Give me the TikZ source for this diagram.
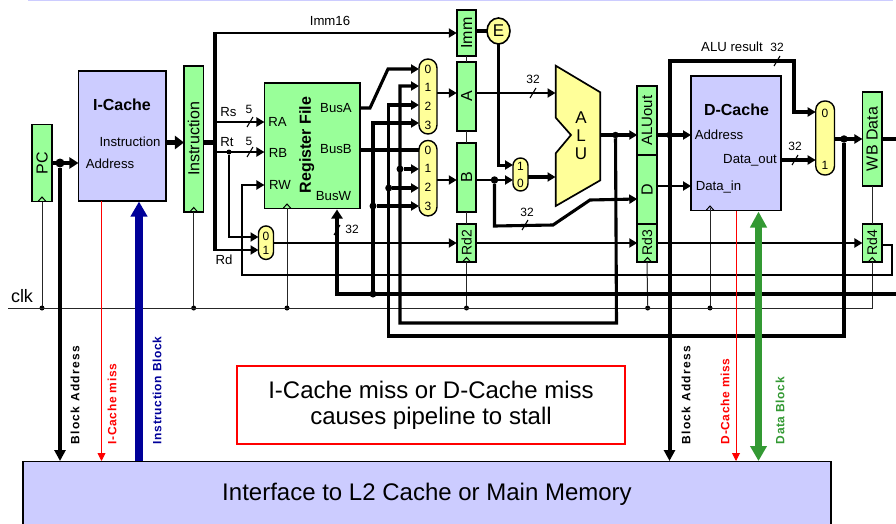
\documentclass[tikz,border=0pt]{standalone}
\usepackage{fontspec}
\setmainfont{Liberation Sans}
\usetikzlibrary{arrows.meta,calc,shapes.geometric}
\definecolor{gbox}{HTML}{99FF99}
\definecolor{ybox}{HTML}{FFFF99}
\definecolor{lbox}{HTML}{CCCCFF}
\definecolor{nblue}{HTML}{000099}
\definecolor{dgreen}{HTML}{339933}
\tikzset{
  regbox/.style={draw=black,line width=1.7pt,fill=gbox,inner sep=0pt,outer sep=0pt,font=\fontsize{16}{16}\selectfont},
  cachebox/.style={draw=black,line width=1.8pt,fill=lbox,inner sep=0pt,outer sep=0pt},
  muxbox/.style={draw=black,line width=1.4pt,fill=ybox,inner sep=0pt,outer sep=0pt,rounded corners=7.5pt},
  lbl/.style={inner sep=0pt,font=\fontsize{13.2}{13}\selectfont,text height=9.5pt,text depth=0pt},
  blbl/.style={inner sep=0pt,font=\fontsize{16}{16}\selectfont\bfseries,text height=11.5pt,text depth=0pt},
  num/.style={inner sep=0pt,font=\fontsize{12}{12}\selectfont,text height=8.6pt,text depth=0pt},
  vlbl/.style={inner sep=0pt,rotate=90,anchor=west,font=\fontsize{12}{12}\selectfont\bfseries\addfontfeature{LetterSpace=5.5}},
  vwide/.style={inner sep=0pt,rotate=90,anchor=west,font=\fontsize{12}{12}\selectfont\bfseries\addfontfeature{LetterSpace=11}},
  bigtxt/.style={inner sep=0pt,font=\fontsize{24}{24}\selectfont},
  jdot/.style={circle,fill=black,inner sep=0pt,minimum size=#1,outer sep=0pt},
  cdot/.style={circle,fill=black,inner sep=0pt,minimum size=5pt,outer sep=0pt},
  thinw/.style={line width=1pt,draw=black!85},
  w2/.style={line width=2.4pt,line join=miter},
  w3/.style={line width=3.1pt,line join=miter},
  w4/.style={line width=4.8pt,line join=miter},
  arr/.style={-{Triangle[length=8pt,width=9pt]}},
  arrb/.style={-{Triangle[length=9pt,width=11pt]}},
  slash/.style={line width=1.1pt,draw=black},
  clkt/.style={line width=1pt,draw=black}
}
\newcommand{\clktri}[2]{\draw[clkt] ({#1-4},#2) -- (#1,{#2-4.5}) -- ({#1+4},#2);}
\newcommand{\slashat}[2]{\draw[slash] ({#1-3},{#2+5}) -- ({#1+3},{#2-5});}
\newcommand{\rdtext}[1]{\rotatebox{90}{\fontsize{14}{14}\selectfont #1}}
\begin{document}
\begin{tikzpicture}[x=1pt,y=-1pt]
\useasboundingbox (0,0) rectangle (896,524);
\clip (0,0) rectangle (896,524);
\fill[lbox] (28,-1) rectangle (893,1.2);

% boxes
\node[regbox,minimum width=19.5pt,minimum height=77pt] (pc) at (42,163) {\rotatebox{90}{PC}};
\node[cachebox,minimum width=87.5pt,minimum height=130pt] (icache) at (122.2,136) {};
\node[regbox,minimum width=19.5pt,minimum height=146pt] (instr) at (193.7,139) {\rotatebox{90}{Instruction}};
\node[regbox,minimum width=95.5pt,minimum height=125.5pt] (rf) at (312.2,145.7) {};
\node[regbox,minimum width=19.5pt,minimum height=46pt] (imm) at (466.5,33) {\rotatebox{90}{Imm}};
\node[regbox,minimum width=19.5pt,minimum height=69pt] (rega) at (466.5,96.5) {\rotatebox{90}{A}};
\node[regbox,minimum width=19.5pt,minimum height=69pt] (regb) at (466.5,177.5) {\rotatebox{90}{B}};
\node[regbox,minimum width=19.5pt,minimum height=38pt] (rd2) at (466.5,243) {\rdtext{Rd2}};
\node[regbox,minimum width=19.5pt,minimum height=69pt] (aluout) at (647,120.5) {\rotatebox{90}{\fontsize{15}{15}\selectfont ALUout}};
\node[regbox,minimum width=19.5pt,minimum height=69pt] (regd) at (647,189.5) {\rotatebox{90}{D}};
\node[regbox,minimum width=19.5pt,minimum height=38pt] (rd3) at (647,243) {\rdtext{Rd3}};
\node[cachebox,minimum width=90pt,minimum height=134.5pt] (dcache) at (736,143.2) {};
\node[regbox,minimum width=19.5pt,minimum height=94pt] (wb) at (872.2,139) {\rotatebox{90}{WB Data}};
\node[regbox,minimum width=19.5pt,minimum height=38pt] (rd4) at (872.2,243) {\rdtext{Rd4}};
\node[muxbox,minimum width=18pt,minimum height=75pt,rounded corners=9pt] (muxa) at (428,96.5) {};
\node[muxbox,minimum width=18pt,minimum height=75.5pt,rounded corners=9pt] (muxb) at (428,178.2) {};
\node[muxbox,minimum width=15pt,minimum height=33pt] (muxs) at (520.5,174.5) {};
\node[muxbox,minimum width=15pt,minimum height=33.5pt] (muxw) at (266,242.7) {};
\node[muxbox,minimum width=18.8pt,minimum height=74pt,rounded corners=9pt] (muxr) at (825.1,138) {};
\node[draw=black,line width=1.6pt,fill=ybox,ellipse,minimum width=23pt,minimum height=26pt,inner sep=0pt,outer sep=0pt,font=\fontsize{17}{17}\selectfont] (ext) at (498.5,31) {E};
\draw[fill=ybox,draw=black,line width=1.7pt,line join=miter] (555.7,65.7) -- (600.3,92.3) -- (600.3,180.3) -- (555.7,206) -- (555.7,153.3) -- (571,135) -- (555.7,117.7) -- cycle;
\coordinate (alu) at (600.3,135);
\node[cachebox,minimum width=808pt,minimum height=69pt] (l2) at (427,496) {};

% clock
\coordinate (clkL) at (8,308);
\coordinate (clkC) at (872.2,308);
\node[cdot] (c1) at (42,308) {};
\node[cdot] (c2) at (193.7,308) {};
\node[cdot] (c3) at (287,308) {};
\node[cdot] (c4) at (466.5,308) {};
\node[cdot] (c5) at (647.7,308) {};
\node[cdot] (c6) at (710,308) {};
\draw[thinw] (clkL) -- (clkC) -- (rd4.south);
\draw[thinw] (c1) -- (pc.south);
\draw[thinw] (c2) -- (instr.south);
\draw[thinw] (c3) -- (287,208);
\draw[thinw] (c4) -- (rd2.south);
\draw[thinw] (c5) -- (rd3.south);
\draw[thinw] (c6) -- (710,208);
\draw[thinw] (imm.south) -- (rega.north);
\draw[thinw] (rega.south) -- (regb.north);
\draw[thinw] (regb.south) -- (rd2.north);
\draw[thinw] (wb.south) -- (rd4.north);
\clktri{42}{201.5}
\clktri{193.7}{212}
\clktri{287}{208.5}
\clktri{466.5}{262}
\clktri{647.5}{262}
\clktri{710}{210.5}
\clktri{872.2}{262}

% PC and I-cache
\node[jdot=9pt] (pcj) at (60,163) {};
\draw[w3,arrb] (pc.east |- 0,163) -- (icache.west |- 0,163);
\draw[line width=4pt,-{Triangle[length=11pt,width=11pt]}] (pcj) -- (60,461);
\draw[w4,-{Triangle[length=9pt,width=13pt]}] (icache.east |- 0,142.5) -- (instr.west |- 0,142.5);
\draw[w4] (instr.east |- 0,142.5) -- (215,142.5);

% instruction bus
\coordinate (busT) at (215,33);
\coordinate (busB) at (215,250);
\draw[line width=4.2pt] (busB) -- (busT);
\draw[w2,arr] (213,33) -- (imm.west |- busT);
\draw[w2,arr] (215,122) -- (rf.west |- 0,122);
\draw[w2,arr] (215,152) -- (rf.west |- 0,152);
\node[cdot] (rtj) at (229,152) {};
\draw[w2,arr] (rtj) |- (muxw.west |- 0,237);
\draw[w2,arr] (213,250) -- (muxw.west |- 0,250);
\slashat{250}{122}
\slashat{250}{152}

% write register path
\draw[w2,arr] (muxw.east |- 0,243) -- (rd2.west |- 0,243);
\draw[w2,arr] (rd2.east |- 0,243) -- (rd3.west |- 0,243);
\draw[w2,arr] (rd3.east |- 0,243) -- (rd4.west |- 0,243);
\draw[w2,arr] (rd4.east |- 0,245) -- (892,245) -- (892,275) -- (242,275) -- (242,185) -- (rf.west |- 0,185);

% busW
\coordinate (wbR) at (896,294);
\draw[w3,arrb] (wbR) -- (337,294) -- (337,209.5);
\slashat{337}{230}

% forwarding lines
\node[jdot=7pt] (f1) at (373,294) {};
\node[jdot=7pt] (f2) at (373,206) {};
\node[jdot=7pt] (f3) at (388.7,188) {};
\node[jdot=7pt] (f4) at (400,169) {};
\node[jdot=7.5pt] (f5) at (844,139) {};
\node[jdot=6.5pt] (f6) at (615.5,135) {};
\draw[w3,arr] (f1) -- (373,123) -- (muxa.west |- 0,123);
\draw[w3,arr] (f2) -- (muxb.west |- 0,206);
\draw[w3,arr] (f5) -- (844,336) -- (388.7,336) -- (388.7,105) -- (muxa.west |- 0,105);
\draw[w3,arr] (f3) -- (muxb.west |- 0,188);
\draw[w3,arr] (f6) -- (616.5,323) -- (400,323) -- (400,86) -- (muxa.west |- 0,86);
\draw[w3,arr] (f4) -- (muxb.west |- 0,169);

% register file outputs
\draw[w3,arr] (rf.east |- 0,108) -- (370,108) -- (388,69) -- (muxa.west |- 0,69);
\draw[w4] (rf.east |- 0,150) -- (muxb.west |- 0,150);

% register stage
\draw[w2,arr] (muxa.east |- 0,93) -- (rega.west |- 0,93);
\draw[w2,arr] (muxb.east |- 0,180) -- (regb.west |- 0,180);
\draw[w2,arr] (rega.east |- 0,93) -- (555.5,93);
\slashat{533}{93}
\draw[w3] (imm.east |- ext) -- (ext);
\draw[line width=3pt,arr] (ext) -- (498.5,165) -- (muxs.west |- 0,165);
\node[jdot=7.5pt] (bj) at (494.5,180) {};
\draw[w2,arr] (regb.east |- 0,180) -- (muxs.west |- 0,180);
\draw[w3,arr] (bj) -- (494.5,226) -- (553,225) -- (590,200) -- (regd.west |- 0,199);
\slashat{525}{225}
\draw[w3,arr] (muxs.east |- 0,177) -- (555.5,177);

% ALU output and D-cache
\draw[w3,arr] (alu) -- (aluout.west |- alu);
\node[jdot=6.5pt] (aj) at (669.5,135) {};
\draw[w3,arr] (aluout.east |- 0,135) -- (dcache.west |- 0,135);
\draw[w2,arr] (regd.east |- 0,186) -- (dcache.west |- 0,186);
\draw[line width=4pt,-{Triangle[length=11pt,width=11pt]}] (669.5,59.5) -- (669.5,461);
\draw[w3,arr] (669.5,61) -- (794,61) -- (794,112) -- (muxr.west |- 0,112);
\slashat{777}{61}
\draw[w3,arr] (dcache.east |- 0,160) -- (muxr.west |- 0,160);
\slashat{795}{160}
\draw[w3,arr] (muxr.east |- 0,139) -- (wb.west |- 0,139);
\draw[w3] (wb.east |- 0,139) -- (896,139);

% memory signals
\draw[line width=0.9pt,draw=red,-{Triangle[length=8pt,width=8pt]}] (101.5,201) -- (101.5,461);
\draw[line width=0.9pt,draw=red,-{Triangle[length=8pt,width=8pt]}] (736,210.5) -- (736,461);
\draw[line width=7.5pt,draw=nblue,-{Triangle[length=15pt,width=16pt]}] (139,461) -- (139,201.5);
\draw[line width=7pt,draw=dgreen,{Triangle[length=16pt,width=16pt]}-{Triangle[length=15pt,width=16pt]}] (758.5,211.5) -- (758.5,461);

% text
\node[draw=red,line width=1.8pt,minimum width=388pt,minimum height=78pt,inner sep=0pt] (stall) at (431,405) {};
\node[bigtxt] (s1) at (431,389.5) {I-Cache miss or D-Cache miss};
\node[bigtxt] (s2) at (431,418) {causes pipeline to stall};
\node[bigtxt] (l2t) at (427,494) {Interface to L2 Cache or Main Memory};

\node[blbl] (t1) at (122,105) {I-Cache};
\node[lbl] (t2) at (130,141.5) {Instruction};
\node[lbl] (t3) at (110,163.5) {Address};
\node[blbl,rotate=90] (t4) at (305,145) {Register File};
\node[lbl] (t5) at (277.5,122) {RA};
\node[lbl] (t6) at (278,153) {RB};
\node[lbl] (t7) at (280,185) {RW};
\node[lbl] (t8) at (336,107.5) {BusA};
\node[lbl] (t9) at (336,148.5) {BusB};
\node[lbl] (t10) at (333.5,196) {BusW};
\node[lbl] (t11) at (228.5,111.5) {Rs};
\node[lbl] (t12) at (227,142) {Rt};
\node[num] (t13) at (249,109) {5};
\node[num] (t14) at (249,141) {5};
\node[lbl] (t15) at (224,260) {Rd};
\node[lbl,font=\fontsize{18}{18}\selectfont,text height=13pt] (t16) at (22,296) {clk};
\node[lbl] (t17) at (330,21) {Imm16};
\foreach \yy/\nn [count=\i] in {69/0,87/1,106/2,125/3,150/0,168/1,187/2,206/3}{\node[num] (ma\i) at (428,\yy) {\nn};}
\node[num] (n1) at (520.5,166) {1};
\node[num] (n2) at (520.5,183) {0};
\node[num] (n3) at (266,236) {0};
\node[num] (n4) at (266,250) {1};
\node[num] (n5) at (825,113) {0};
\node[num] (n6) at (825,165) {1};
\node[lbl,font=\fontsize{17}{17}\selectfont,text height=12.2pt] (a1) at (581,117) {A};
\node[lbl,font=\fontsize{17}{17}\selectfont,text height=12.2pt] (a2) at (581,135) {L};
\node[lbl,font=\fontsize{17}{17}\selectfont,text height=12.2pt] (a3) at (581,153) {U};
\node[blbl] (t18) at (736.5,110) {D-Cache};
\node[lbl] (t19) at (719,134.5) {Address};
\node[lbl] (t20) at (750,159) {Data\_out};
\node[lbl] (t21) at (718.5,186) {Data\_in};
\node[lbl] (t22) at (732,46.5) {ALU result};
\node[num] (t23) at (777,47) {32};
\node[num] (t24) at (795,146) {32};
\node[num] (t25) at (533,79) {32};
\node[num] (t26) at (527,212.5) {32};
\node[num] (t27) at (352,229) {32};
\node[vwide] (v1) at (75,444.5) {Block Address};
\node[vlbl,text=red] (v2) at (112,444.5) {I-Cache miss};
\node[vlbl,text=nblue] (v3) at (157,444.5) {Instruction Block};
\node[vwide] (v4) at (686,444.5) {Block Address};
\node[vlbl,text=red] (v5) at (725,444.5) {D-Cache miss};
\node[vlbl,text=dgreen] (v6) at (780,444.5) {Data Block};
\end{tikzpicture}
\end{document}
